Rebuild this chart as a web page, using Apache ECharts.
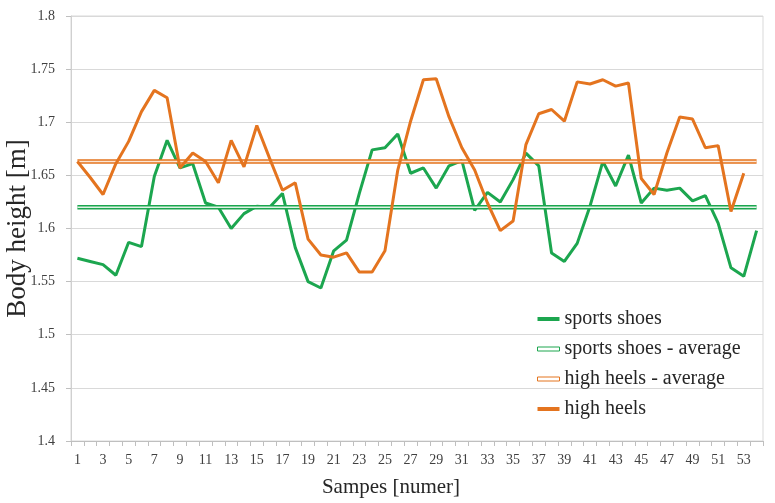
<!DOCTYPE html>
<html>
<head>
<meta charset="utf-8">
<script src="https://cdn.jsdelivr.net/npm/echarts@6/dist/echarts.min.js"></script>
<style>
html,body{margin:0;padding:0;background:#fff;}
#chart{width:775px;height:503px;}
</style>
</head>
<body>
<div id="chart"></div>
<script>
// ---- data ----
const categories = Array.from({length: 54}, (_, i) => String(i + 1));
const sportsShoes = [
  1.572, 1.569, 1.566, 1.556, 1.587, 1.583, 1.649, 1.683, 1.657, 1.661,
  1.624, 1.620, 1.600, 1.614, 1.621, 1.620, 1.633, 1.582, 1.550, 1.544,
  1.579, 1.589, 1.633, 1.674, 1.676, 1.689, 1.652, 1.657, 1.638, 1.659,
  1.664, 1.617, 1.634, 1.625, 1.646, 1.671, 1.659, 1.577, 1.569, 1.586,
  1.621, 1.663, 1.640, 1.669, 1.624, 1.638, 1.636, 1.638, 1.626, 1.631,
  1.605, 1.563, 1.555, 1.598
];
const highHeels = [
  1.663, 1.648, 1.632, 1.661, 1.682, 1.710, 1.730, 1.723, 1.657, 1.671,
  1.663, 1.643, 1.683, 1.658, 1.697, 1.666, 1.636, 1.643, 1.590, 1.575,
  1.573, 1.577, 1.559, 1.559, 1.579, 1.655, 1.701, 1.740, 1.741, 1.705,
  1.676, 1.655, 1.624, 1.598, 1.607, 1.679, 1.708, 1.712, 1.701, 1.738,
  1.736, 1.740, 1.734, 1.737, 1.647, 1.632, 1.671, 1.705, 1.703, 1.676,
  1.678, 1.616, 1.652
];
const sportsAverage = 1.620;
const heelsAverage = 1.663;
const yTicks = {min: 1.4, max: 1.8, interval: 0.05};

// ---- style ----
const GREEN = '#1CA64F';
const ORANGE = '#E4741F';
const SERIF = '"Liberation Serif", "DejaVu Serif", serif';

const sportsAvgData = categories.map(() => sportsAverage);
const heelsAvgData = categories.map(() => heelsAverage);

const chart = echarts.init(document.getElementById('chart'), null, {renderer: 'canvas'});
chart.setOption({
  animation: false,
  backgroundColor: '#fff',
  grid: {left: 71, right: 12, top: 16, bottom: 62, containLabel: false, outerBoundsMode: 'none',
    show: true, borderColor: '#d9d9d9', borderWidth: 1},
  legend: {
    orient: 'vertical',
    left: 532,
    top: 304,
    itemWidth: 22,
    itemHeight: 4,
    itemGap: 10,
    textStyle: {fontFamily: SERIF, fontSize: 20, color: '#262626'},
    data: [
      {name: 'sports shoes', icon: 'rect', itemStyle: {color: GREEN}},
      {name: 'sports shoes - average', icon: 'rect', itemStyle: {color: '#fff', borderColor: GREEN, borderWidth: 1}},
      {name: 'high heels - average', icon: 'rect', itemStyle: {color: '#fff', borderColor: ORANGE, borderWidth: 1}},
      {name: 'high heels', icon: 'rect', itemStyle: {color: ORANGE}}
    ]
  },
  xAxis: {
    type: 'category',
    data: categories,
    boundaryGap: true,
    name: 'Sampes [numer]',
    nameLocation: 'middle',
    nameGap: 36,
    nameMoveOverlap: false,
    nameTextStyle: {fontFamily: SERIF, fontSize: 21, color: '#262626', padding: [0, 52, 0, 0]},
    axisLine: {lineStyle: {color: '#bfbfbf'}},
    axisTick: {show: true, interval: 0, length: 5, lineStyle: {color: '#bfbfbf'}},
    axisLabel: {interval: 1, margin: 12, fontFamily: SERIF, fontSize: 14, color: '#404040'},
    splitLine: {show: false}
  },
  yAxis: {
    type: 'value',
    min: yTicks.min,
    max: yTicks.max,
    interval: yTicks.interval,
    name: 'Body height [m]',
    nameLocation: 'middle',
    nameGap: 40,
    nameMoveOverlap: false,
    nameTextStyle: {fontFamily: SERIF, fontSize: 27, color: '#262626'},
    axisLine: {show: true, lineStyle: {color: '#d0d0d0'}},
    axisTick: {show: true, length: 5, lineStyle: {color: '#bfbfbf'}},
    axisLabel: {margin: 16, fontFamily: SERIF, fontSize: 14, color: '#404040',
      formatter: v => String(Math.round(v * 100) / 100)},
    splitLine: {lineStyle: {color: '#d9d9d9'}}
  },
  series: [
    {name: 'sports shoes', type: 'line', data: sportsShoes, symbol: 'none',
      lineStyle: {color: GREEN, width: 3}, itemStyle: {color: GREEN}, z: 2},
    {name: 'sports shoes - average', type: 'line', data: sportsAvgData, symbol: 'none',
      lineStyle: {color: GREEN, width: 4.5}, itemStyle: {color: GREEN}, z: 3},
    {name: '_sportsAvgInner', type: 'line', data: sportsAvgData, symbol: 'none', silent: true,
      lineStyle: {color: '#dff3e6', width: 1.5}, z: 3},
    {name: 'high heels - average', type: 'line', data: heelsAvgData, symbol: 'none',
      lineStyle: {color: ORANGE, width: 4.5}, itemStyle: {color: ORANGE}, z: 4},
    {name: '_heelsAvgInner', type: 'line', data: heelsAvgData, symbol: 'none', silent: true,
      lineStyle: {color: '#fae6d6', width: 1.5}, z: 4},
    {name: 'high heels', type: 'line', data: highHeels, symbol: 'none',
      lineStyle: {color: ORANGE, width: 3}, itemStyle: {color: ORANGE}, z: 5}
  ]
});
</script>
</body>
</html>
